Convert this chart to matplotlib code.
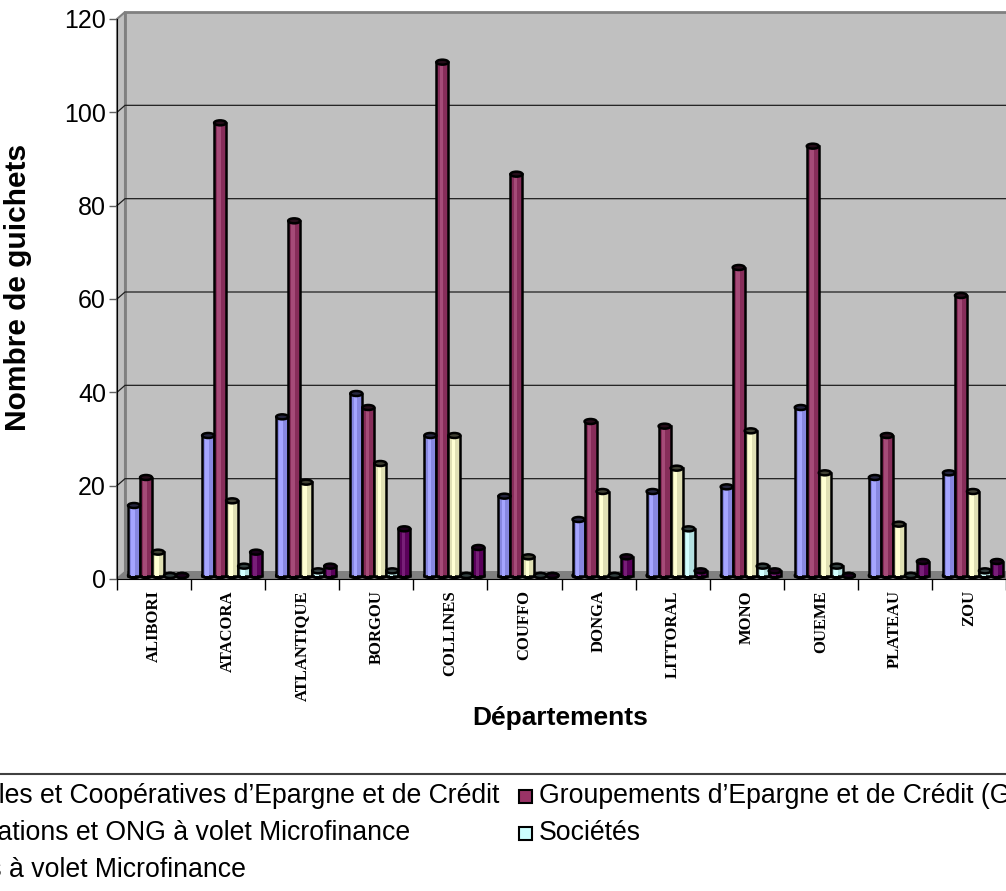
import matplotlib
matplotlib.use("Agg")
import matplotlib.pyplot as plt
from matplotlib.patches import Rectangle, Polygon, Ellipse
from matplotlib.lines import Line2D
from matplotlib.colors import to_rgb

plt.rcParams["font.family"] = ["Liberation Sans", "DejaVu Sans"]

# --- données ---
departements = ["ALIBORI", "ATACORA", "ATLANTIQUE", "BORGOU", "COLLINES", "COUFFO",
                "DONGA", "LITTORAL", "MONO", "OUEME", "PLATEAU", "ZOU"]
mutuelles = [15, 30, 34, 39, 30, 17, 12, 18, 19, 36, 21, 22]
groupements = [21, 97, 76, 36, 110, 86, 33, 32, 66, 92, 30, 60]
associations = [5, 16, 20, 24, 30, 4, 18, 23, 31, 22, 11, 18]
societes = [0, 2, 1, 1, 0, 0, 0, 10, 2, 2, 0, 1]
projets = [0, 5, 2, 10, 6, 0, 4, 1, 1, 0, 3, 3]

series_labels = [
    "Mutuelles et Coopératives d\u2019Epargne et de Crédit",
    "Groupements d\u2019Epargne et de Crédit (GEC)",
    "Associations et ONG à volet Microfinance",
    "Sociétés",
    "Projets à volet Microfinance",
]
series_values = [mutuelles, groupements, associations, societes, projets]
series_colors = ["#9999FF", "#993366", "#FFFFCC", "#CCFFFF", "#660066"]
y_ticks = [0, 20, 40, 60, 80, 100, 120]

W, H = 1006, 891
fig = plt.figure(figsize=(W / 100, H / 100), dpi=100)

# zone de tracé (coordonnées en pixels)
x0, x1 = 117, 1006
y_top, y_bot = 19, 579
ax = fig.add_axes([x0 / W, (H - y_bot) / H, (x1 - x0) / W, (y_bot - y_top) / H])
ax.set_xlim(0, 12)
ax.set_ylim(0, 120)

px_x = (x1 - x0) / 12.0
px_y = (y_bot - y_top) / 120.0
dx = 8 / px_x
dy = 7 / px_y

# parois 3D
ax.add_patch(Rectangle((dx, dy), 14, 120, facecolor="#C0C0C0", edgecolor="#808080",
                       lw=2, clip_on=False, zorder=0))
ax.add_patch(Polygon([(0, 0), (dx, dy), (dx, 120 + dy), (0, 120)], closed=True,
                     facecolor="#C0C0C0", edgecolor="#808080", lw=1.5,
                     clip_on=False, zorder=0.5))
ax.add_patch(Polygon([(0, 0), (14, 0), (14 + dx, dy), (dx, dy)], closed=True,
                     facecolor="#808080", edgecolor="#808080", lw=1,
                     clip_on=False, zorder=0.6))
for v in y_ticks[1:-1]:
    ax.add_line(Line2D([0, dx, 14], [v, v + dy, v + dy], color="#202020", lw=0.9,
                       clip_on=False, zorder=1))

# cylindres
w = 0.162
cap_h = 5 / px_y
for j, (vals, col) in enumerate(zip(series_values, series_colors)):
    rgb = to_rgb(col)
    body = tuple(c * 0.88 for c in rgb)
    light = tuple(min(1, c * 0.88 + 0.12) for c in rgb)
    dark = tuple(c * 0.25 for c in rgb)
    xs = [i + 0.5 + dx / 2 + (j - 2) * w for i in range(len(departements))]
    ax.bar(xs, vals, width=w, bottom=dy / 2, color=body, edgecolor="black",
           lw=1.8, zorder=3, label=series_labels[j])
    ax.bar([x - w * 0.08 for x in xs], vals, width=w * 0.3, bottom=dy / 2,
           color=light, lw=0, zorder=3.1)
    for x, v in zip(xs, vals):
        ax.add_patch(Ellipse((x, dy / 2), w, cap_h, facecolor=body,
                             edgecolor="black", lw=1.8, zorder=2.9))
        ax.add_patch(Ellipse((x, v + dy / 2), w, cap_h, facecolor=dark,
                             edgecolor="black", lw=1.8, zorder=3.2))

# axes
for s in ["top", "right"]:
    ax.spines[s].set_visible(False)
ax.spines["left"].set_color("black")
ax.spines["bottom"].set_color("black")
ax.spines["left"].set_zorder(5)
ax.set_yticks(y_ticks)
ax.tick_params(axis="y", direction="out", length=6, width=1, color="#606060",
               labelsize=18, pad=2)
ax.set_xticks(range(13))
ax.set_xticklabels([])
ax.tick_params(axis="x", which="major", direction="out", length=8, width=1,
               color="black")
ax.set_xticks([i + 0.5 for i in range(12)], minor=True)
ax.set_xticklabels(departements, minor=True, rotation=90,
                   fontdict={"family": "Liberation Serif", "weight": "bold",
                             "size": 12})
ax.tick_params(axis="x", which="minor", length=0, pad=8)

fig.text(18 / W, 1 - 287 / H, "Nombre de guichets", rotation=90, ha="center",
         va="center", fontsize=21.5, fontweight="bold")
fig.text(560 / W, 1 - 718 / H, "Départements", ha="center", va="center",
         fontsize=19, fontweight="bold")

# légende (rognée comme sur l'original)
fig.add_artist(Line2D([0, 1], [1 - 774 / H, 1 - 774 / H], color="#404040", lw=1.5))
leg_pos = [(-81, 796), (539, 796), (-81, 833), (539, 833), (-81, 870)]
for (tx, ty), lab, col in zip(leg_pos, series_labels, series_colors):
    fig.add_artist(Rectangle(((tx - 20) / W, 1 - (ty + 7) / H), 13 / W, 13 / H,
                             facecolor=col, edgecolor="black", lw=1.5,
                             transform=fig.transFigure))
    fig.text(tx / W, 1 - ty / H, lab, ha="left", va="center", fontsize=19.2)

fig.savefig("out.png", dpi=100)
